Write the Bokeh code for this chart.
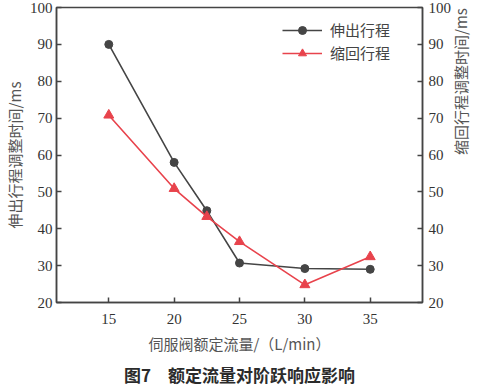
import math
from bokeh.plotting import figure
from bokeh.models import LinearAxis, Range1d, FixedTicker, Legend, LegendItem, Title, Label
from bokeh.embed import file_html
from bokeh.resources import INLINE

flow = [15, 20, 22.5, 25, 30, 35]
extend_time = [90, 58, 44.9, 30.7, 29.2, 29.0]
retract_time = [70.8, 50.9, 43.3, 36.5, 24.8, 32.4]
x_ticks = [15, 20, 25, 30, 35]
y_ticks = [20, 30, 40, 50, 60, 70, 80, 90, 100]
series_names = ["伸出行程", "缩回行程"]

AX = "#444444"
BLACK = "#454545"
RED = "#e8434c"
CJK = "Noto Sans CJK SC"
SERIF = "Liberation Serif"

FW, FH = 366, 295
p = figure(frame_width=FW, frame_height=FH, output_backend="svg", toolbar_location=None,
           x_range=Range1d(11, 39), y_range=Range1d(20, 100),
           min_border_left=50, min_border_right=50, min_border_top=7, min_border_bottom=0)
p.extra_y_ranges = {"r": Range1d(20, 100)}
p.xgrid.visible = False
p.ygrid.visible = False
p.outline_line_color = AX
p.outline_line_width = 1.5
p.background_fill_color = "white"
p.border_fill_color = "white"

def style(ax, label):
    ax.axis_label = label
    ax.axis_label_text_font = CJK
    ax.axis_label_text_font_size = "15px"
    ax.axis_label_text_font_style = "normal"
    ax.axis_label_text_color = "#555555"
    ax.major_label_text_font = SERIF
    ax.major_label_text_font_size = "15px"
    ax.major_label_text_color = "#333333"
    ax.major_tick_in = 5
    ax.major_tick_out = 0
    ax.minor_tick_in = 0
    ax.minor_tick_out = 0
    ax.axis_line_color = AX
    ax.axis_line_width = 1.5
    ax.major_tick_line_color = AX
    ax.major_tick_line_width = 1.5

p.xaxis.ticker = FixedTicker(ticks=x_ticks)
p.yaxis.ticker = FixedTicker(ticks=y_ticks)
style(p.xaxis[0], "伺服阀额定流量/（L/min）")
style(p.yaxis[0], "伸出行程调整时间/ms")
p.xaxis.major_label_standoff = 11
p.xaxis.axis_label_standoff = 6
p.yaxis.major_label_standoff = 4
p.yaxis.axis_label_standoff = 2

ra = LinearAxis(y_range_name="r", ticker=FixedTicker(ticks=y_ticks))
ra.major_label_standoff = 6
if "axis_label_orientation" in ra.properties():
    style(ra, "缩回行程调整时间/ms")
    ra.axis_label_orientation = math.pi / 2
    ra.axis_label_standoff = 6
else:
    style(ra, None)
    p.add_layout(Label(x=39, y=60, x_offset=42, text="缩回行程调整时间/ms", angle=90,
                       angle_units="deg", text_align="center", text_baseline="middle",
                       text_font=CJK, text_font_size="15px", text_color="#555555"))
p.add_layout(ra, "right")

l1 = p.line(flow, extend_time, line_color=BLACK, line_width=1.6)
m1 = p.scatter(flow, extend_time, marker="circle", size=8, fill_color=BLACK, line_color=BLACK)
l2 = p.line(flow, retract_time, line_color=RED, line_width=1.6)
m2 = p.scatter(flow, retract_time, marker="triangle", size=10, fill_color=RED, line_color=RED)

leg = Legend(items=[LegendItem(label=series_names[0], renderers=[l1, m1]),
                    LegendItem(label=series_names[1], renderers=[l2, m2])],
             location=(226, FH - 14 - 42), padding=0, spacing=2, glyph_width=40, glyph_height=20,
             label_height=20, label_standoff=8,
             label_text_font=CJK, label_text_font_size="15px", label_text_color="#444444",
             border_line_color=None, background_fill_alpha=0)
p.add_layout(leg)

cap = Title(text="图7　额定流量对阶跃响应影响", align="center", text_font=CJK,
            text_font_size="17px", text_font_style="bold", text_color="#2b2b2b",
            standoff=7)
p.add_layout(cap, "below")

open("out.html", "w").write(file_html(p, INLINE))
